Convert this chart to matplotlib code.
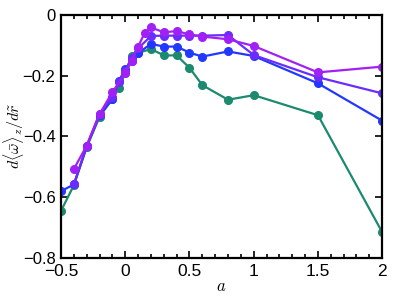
import matplotlib

matplotlib.use("Agg")
import matplotlib.pyplot as plt
from matplotlib.ticker import MultipleLocator

a_green = [-0.5, -0.4, -0.3, -0.2, -0.1, -0.05, 0, 0.05, 0.1, 0.2, 0.3, 0.4, 0.5, 0.6, 0.8, 1.0, 1.5, 2.0]
green = [-0.645, -0.56, -0.435, -0.335, -0.275, -0.24, -0.19, -0.135, -0.125, -0.112, -0.133, -0.133,
         -0.174, -0.231, -0.279, -0.264, -0.330, -0.715]

a_blue = [-0.5, -0.4, -0.3, -0.2, -0.1, -0.05, 0, 0.05, 0.1, 0.2, 0.3, 0.4, 0.5, 0.6, 0.8, 1.0, 1.5, 2.0]
blue = [-0.58, -0.558, -0.433, -0.33, -0.278, -0.218, -0.177, -0.15, -0.126, -0.095, -0.104, -0.104,
        -0.124, -0.137, -0.120, -0.135, -0.225, -0.348]

a_violet = [-0.4, -0.3, -0.2, -0.1, -0.05, 0, 0.05, 0.1, 0.2, 0.3, 0.4, 0.5, 0.6, 0.8, 1.0, 1.5, 2.0]
violet = [-0.558, -0.43, -0.325, -0.27, -0.22, -0.185, -0.14, -0.11, -0.069, -0.068, -0.068,
          -0.068, -0.068, -0.066, -0.132, -0.205, -0.258]

a_purple = [-0.4, -0.3, -0.2, -0.1, 0, 0.05, 0.1, 0.15, 0.2, 0.3, 0.4, 0.5, 0.6, 0.8, 1.0, 1.5, 2.0]
purple = [-0.507, -0.43, -0.326, -0.254, -0.192, -0.15, -0.104, -0.060, -0.041, -0.057, -0.053,
          -0.064, -0.071, -0.080, -0.102, -0.189, -0.170]

plt.rcParams["font.family"] = ["Liberation Sans", "DejaVu Sans"]
plt.rcParams["mathtext.fontset"] = "cm"

fig = plt.figure(figsize=(4.07, 3.06), dpi=100)
ax = fig.add_axes([0.150, 0.157, 0.789, 0.794])

style = dict(marker="o", markersize=5.5, linewidth=1.6)
ax.plot(a_green, green, color="#1b8a6f", **style)
ax.plot(a_blue, blue, color="#2238ff", **style)
ax.plot(a_violet, violet, color="#6a2cff", **style)
ax.plot(a_purple, purple, color="#a220f5", **style)

ax.set_xlim(-0.5, 2)
ax.set_ylim(-0.8, 0)
ax.set_xticks([-0.5, 0, 0.5, 1, 1.5, 2])
ax.xaxis.set_minor_locator(MultipleLocator(0.1))
ax.set_xticklabels(["\u22120.5", "0", "0.5", "1", "1.5", "2"], fontsize=12.5)
ax.set_yticks([-0.8, -0.6, -0.4, -0.2, 0])
ax.set_yticklabels(["\u22120.8", "\u22120.6", "\u22120.4", "\u22120.2", "0"], fontsize=12)

ax.tick_params(which="both", direction="in", top=True, right=True, width=1.2, pad=4)
ax.tick_params(which="major", length=5)
ax.tick_params(which="minor", length=3)
for s in ax.spines.values():
    s.set_linewidth(1.6)

ax.set_xlabel(r"$a$", fontsize=12, labelpad=0)
ax.set_ylabel(r"$d\langle\bar{\omega}\rangle_z/d\tilde{r}$", fontsize=11.5)
ax.yaxis.set_label_coords(-0.11, 0.5)

plt.savefig("out.png", dpi=100)
